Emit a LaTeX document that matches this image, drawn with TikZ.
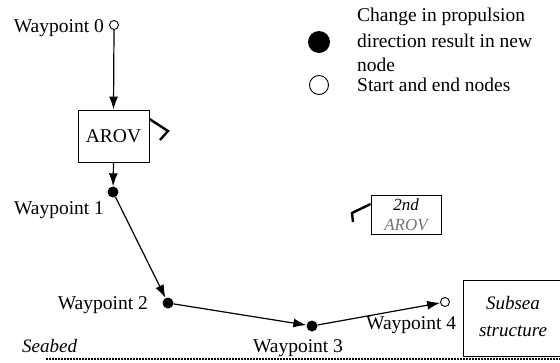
\documentclass[tikz,border=0pt]{standalone}
\usepackage{fontspec}
\setmainfont{Liberation Serif}
\usetikzlibrary{arrows.meta}
\begin{document}
\begin{tikzpicture}[x=1pt,y=-1pt,
  lbl/.style={font=\fontsize{19.5}{22}\selectfont, inner sep=0pt},
  ilbl/.style={font=\fontsize{19}{22}\selectfont\itshape, inner sep=0pt},
  fdot/.style={circle, fill=black, minimum size=11pt, inner sep=0pt},
  odot/.style={circle, draw=black, fill=white, minimum size=9pt, inner sep=0pt, line width=0.9pt},
  arr/.style={-{Latex[length=13pt,width=9pt]}, line width=1.2pt},
  boxed/.style={draw, line width=0.9pt, inner sep=0pt},
  prop/.style={line width=2.4pt, line join=miter}]
\useasboundingbox (0,0) rectangle (560,362);
% waypoints
\node[odot] (w0) at (114,25) {};
\node[boxed, minimum width=71pt, minimum height=52pt, font=\fontsize{19.5}{22}\selectfont] (arov) at (113.5,136) {AROV};
\node[fdot] (w1) at (113,192) {};
\node[fdot] (w2) at (168,303) {};
\node[fdot] (w3) at (312,326) {};
\node[odot] (w4) at (445,302) {};
% labels
\node[lbl, anchor=base east] (l0) at (104,32) {Waypoint 0};
\node[lbl, anchor=base] (l1) at (59,214) {Waypoint 1};
\node[lbl, anchor=base east] (l2) at (148,309) {Waypoint 2};
\node[lbl, anchor=base] (l3) at (298,352) {Waypoint 3};
\node[lbl, anchor=base west] (l4) at (366,329) {Waypoint 4};
% connectors
\draw[arr] (w0.south) -- (arov.north);
\draw[arr] (arov.south) -- (w1);
\draw[arr] (w1) -- (w2);
\draw[arr] (w2) -- (w3);
\draw[arr] (w3) -- (w4);
% propeller marks
\coordinate (p1) at (168,131);
\coordinate (p2) at (160,140);
\draw[prop] (arov.east |- 0,119) -- (p1) -- (p2);
\node[boxed, minimum width=70pt, minimum height=39pt, align=center, font=\fontsize{17}{20}\selectfont\itshape] (arov2) at (406,214.5) {2nd\\\textcolor{black!55}{AROV}};
\coordinate (q1) at (352,213);
\coordinate (q2) at (353,222);
\draw[prop] (arov2.west |- 0,204) -- (q1) -- (q2);
% subsea structure
\draw[line width=0.9pt] (561,280) -- (463,280) -- (463,356) -- (561,356);
\node[ilbl, anchor=base] (sub1) at (513,309) {Subsea};
\node[ilbl, anchor=base] (sub2) at (513,336) {structure};
% seabed
\node[ilbl, anchor=base west] (seabed) at (22,352) {Seabed};
\coordinate (sb1) at (46,359);
\coordinate (sb2) at (560,359);
\draw[line width=1.5pt, dash pattern=on 2pt off 1pt] (sb1) -- (sb2);
% legend
\node[fdot, minimum size=22pt] (lg1) at (319,42) {};
\node[odot, minimum size=19pt] (lg2) at (319,85) {};
\node[lbl, anchor=base west] (t1) at (357,21) {Change in propulsion};
\node[lbl, anchor=base west] (t2) at (357,47) {direction result in new};
\node[lbl, anchor=base west] (t3) at (357,71) {node};
\node[lbl, anchor=base west] (t4) at (357,91) {Start and end nodes};
\end{tikzpicture}
\end{document}
